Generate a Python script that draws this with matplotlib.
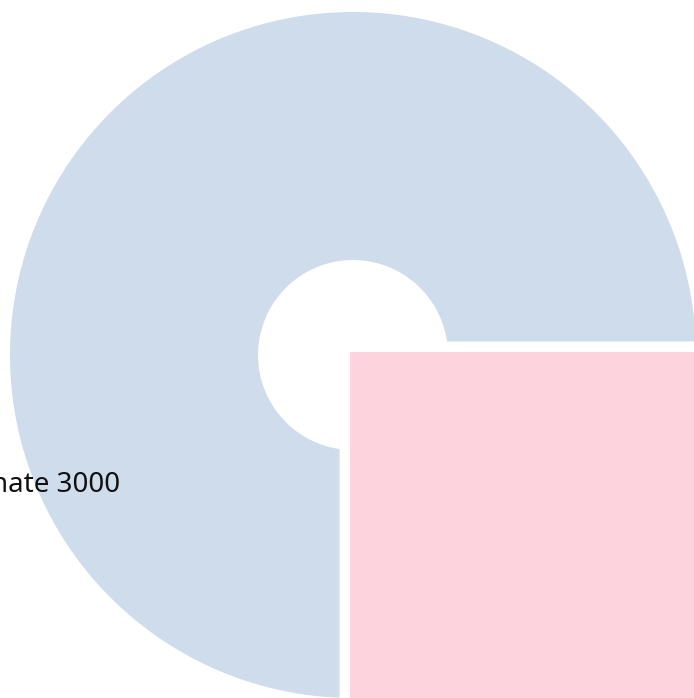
import matplotlib
matplotlib.use("Agg")
import matplotlib.pyplot as plt

categories = ["Other", "nate"]
values = [9000, 3000]
colors = ["#CFDCEC", "#FDD3DE"]
label_text = "nate 3000"

W, H = 694, 698
fig = plt.figure(figsize=(W / 100, H / 100), dpi=100)
ax = fig.add_axes([0, 0, 1, 1])

cx, cy = 353, H - 355
wedges, _ = ax.pie(
    values,
    colors=colors,
    startangle=0,
    counterclock=True,
    radius=356.5,
    center=(cx, cy),
    wedgeprops=dict(width=275, edgecolor="white", linewidth=19.4),
)
# second slice drawn larger, full and on top
wedges[1].set_width(None)
wedges[1].set_radius(800)
wedges[1].set_center((cx - 3, cy + 3))
wedges[1].set_linewidth(0)
wedges[1].set_zorder(3)

ax.text(120, H - 492, label_text, ha="right", va="baseline",
        fontsize=20, family=["Noto Sans", "DejaVu Sans"], color="#111111", zorder=5)

ax.set_xlim(0, W)
ax.set_ylim(0, H)
ax.set_aspect("equal")
ax.axis("off")
fig.savefig("out.png", dpi=100)
